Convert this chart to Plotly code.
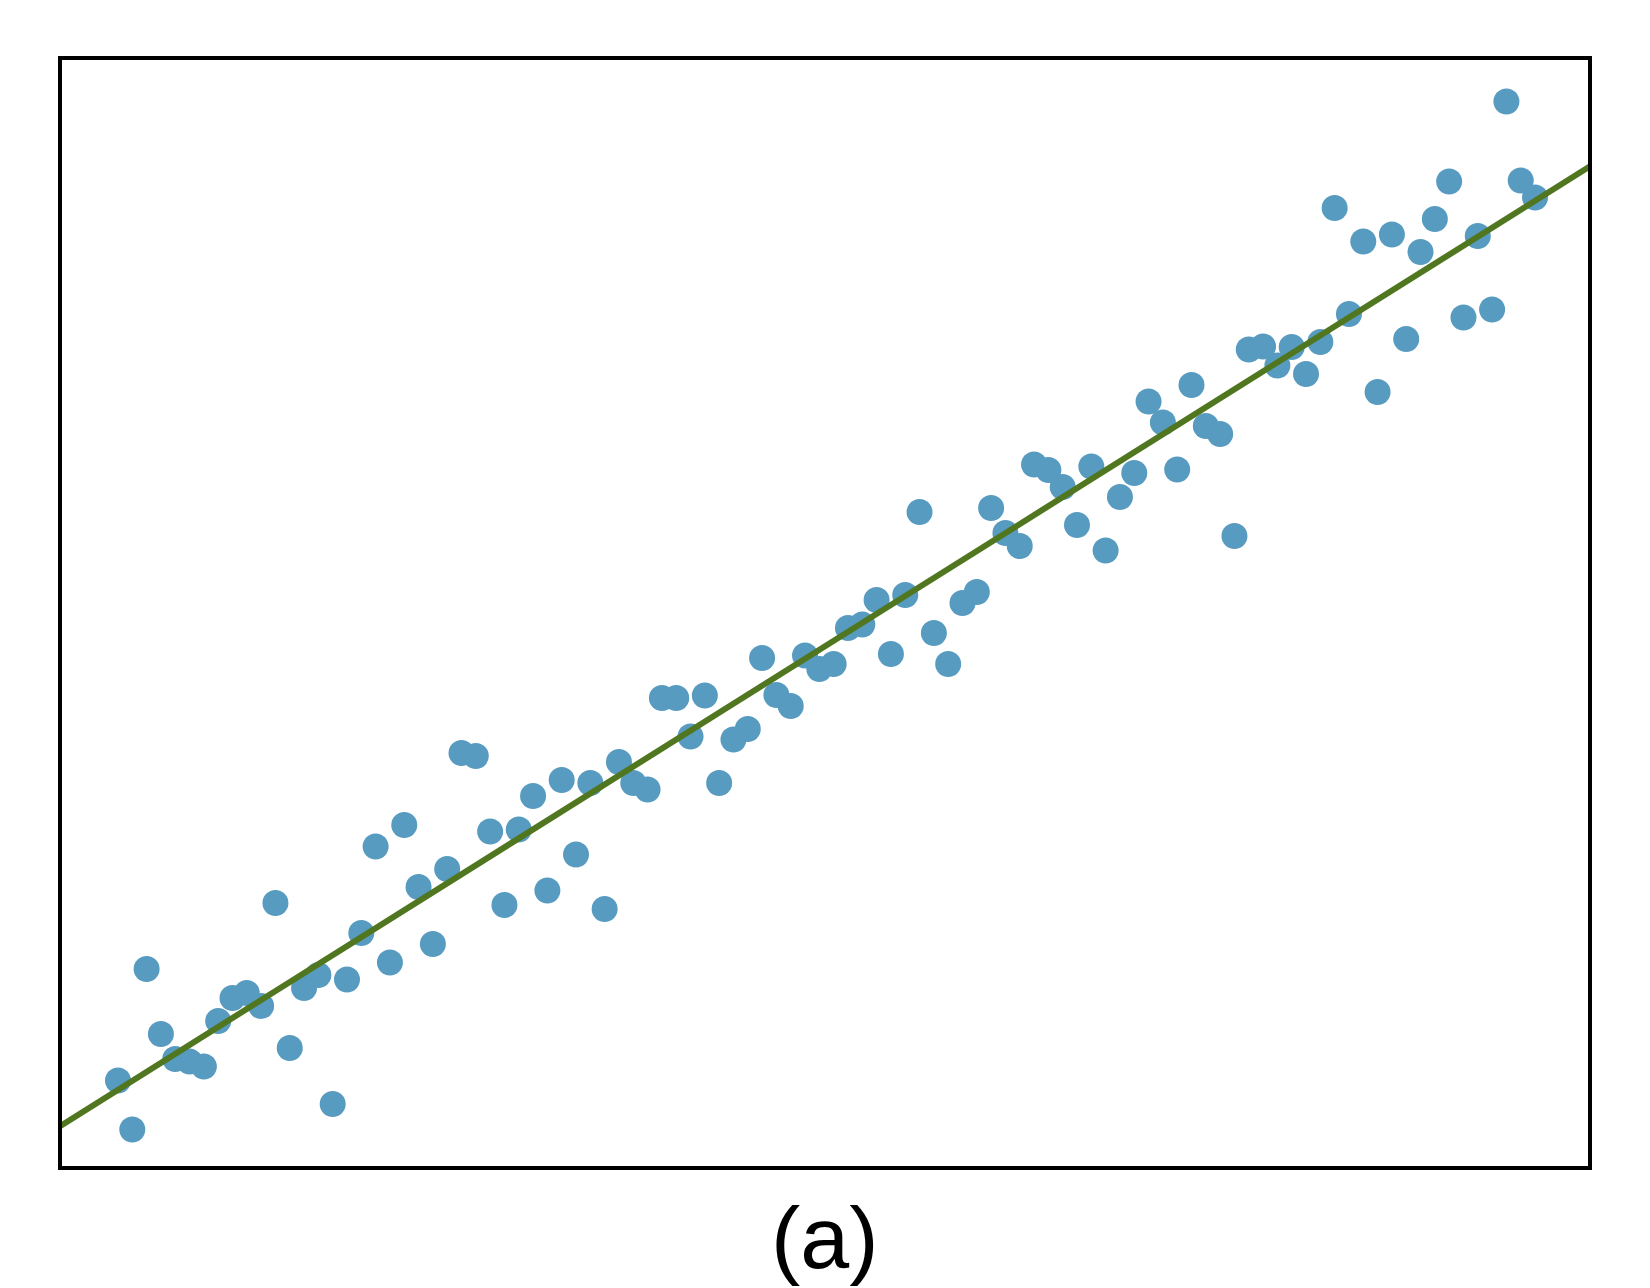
import plotly.graph_objects as go

# ---- data ----
x_vals = [1, 2, 3, 4, 5, 6, 7, 8, 9, 10, 11, 12, 13, 14, 15, 16, 17, 18, 19, 20,
          21, 22, 23, 24, 25, 26, 27, 28, 29, 30, 31, 32, 33, 34, 35, 36, 37, 38, 39, 40,
          41, 42, 43, 44, 45, 46, 47, 48, 49, 50, 51, 52, 53, 54, 55, 56, 57, 58, 59, 60,
          61, 62, 63, 64, 65, 66, 67, 68, 69, 70, 71, 72, 73, 74, 75, 76, 77, 78, 79, 80,
          81, 82, 83, 84, 85, 86, 87, 88, 89, 90, 91, 92, 93, 94, 95, 96, 97, 98, 99, 100]
y_vals = [8.75, 3.85, 19.9, 13.4, 10.9, 10.65, 10.15, 14.7, 17.0, 17.5,
          16.2, 26.5, 12.0, 18.0, 19.3, 6.4, 18.85, 23.5, 32.15, 20.55,
          34.3, 28.1, 22.4, 29.9, 41.5, 41.2, 33.65, 26.3, 33.85, 37.2,
          27.75, 38.8, 31.35, 38.5, 25.9, 40.6, 38.5, 37.85, 47.0, 47.0,
          43.15, 47.25, 38.5, 42.85, 43.9, 51.0, 47.3, 46.2, 51.25, 49.9,
          50.4, 54.0, 54.35, 56.8, 51.4, 57.3, 65.6, 53.5, 50.4, 56.5,
          57.6, 66.0, 63.5, 62.2, 70.35, 69.8, 68.1, 64.3, 70.15, 61.75,
          67.1, 69.5, 76.65, 74.55, 69.85, 78.3, 74.2, 73.4, 63.2, 81.85,
          82.15, 80.25, 82.1, 79.4, 82.6, 96.0, 85.4, 92.65, 77.6, 93.35,
          82.9, 91.6, 94.9, 98.65, 85.05, 93.2, 85.85, 106.65, 98.75, 97.05]
fit_slope = 0.898
fit_intercept = 6.92
x_range = [-3.05, 103.84]
y_range = [0, 111]
panel_label = "(a)"

fit_x = x_range
fit_y = [fit_intercept + fit_slope * v for v in fit_x]

fig = go.Figure()
fig.add_trace(go.Scatter(
    x=x_vals, y=y_vals, mode="markers",
    marker=dict(size=26, color="#579bc0", line=dict(width=0)),
    showlegend=False, hoverinfo="skip",
))
fig.add_trace(go.Scatter(
    x=fit_x, y=fit_y, mode="lines",
    line=dict(color="#50761f", width=6),
    showlegend=False, hoverinfo="skip",
))

fig.update_xaxes(range=x_range, visible=False, showgrid=False, zeroline=False)
fig.update_yaxes(range=y_range, visible=False, showgrid=False, zeroline=False)

fig.add_shape(type="rect", xref="paper", yref="paper", x0=0, x1=1, y0=0, y1=1,
              line=dict(color="black", width=4), layer="above")

fig.add_annotation(text=panel_label, xref="paper", yref="paper", x=0.5, y=-0.0625,
                   xanchor="center", yanchor="middle", showarrow=False,
                   font=dict(family="Liberation Sans, Arial, sans-serif", size=88, color="black"))

fig.update_layout(
    width=1650, height=1288,
    margin=dict(l=60, r=60, t=58, b=120),
    paper_bgcolor="white", plot_bgcolor="white",
)

fig.write_html("out.html")
